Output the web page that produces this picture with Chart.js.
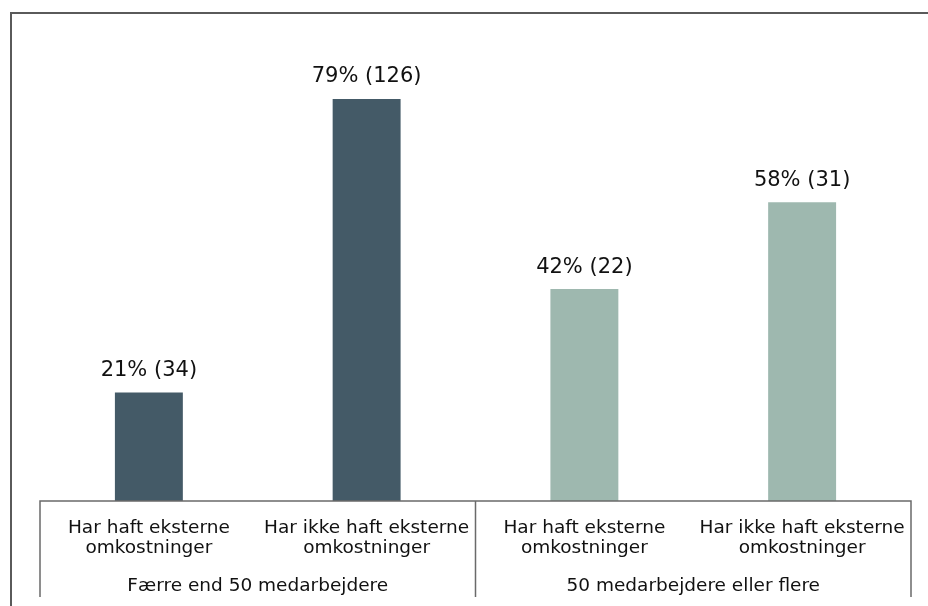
<!DOCTYPE html>
<html>
<head>
<meta charset="utf-8">
<script src="https://cdn.jsdelivr.net/npm/chart.js@4/dist/chart.umd.min.js"></script>
<style>
  html, body { margin: 0; padding: 0; background: #fff; }
  #wrap { position: relative; width: 928px; height: 606px; }
</style>
</head>
<body>
<div id="wrap"><canvas id="chart"></canvas></div>
<script>
// answers per company size group: counts of respondents
const groups = ['Færre end 50 medarbejdere', '50 medarbejdere eller flere'];
const answers = [['Har haft eksterne', 'omkostninger'], ['Har ikke haft eksterne', 'omkostninger']];
const smallCounts = [34, 126];
const largeCounts = [22, 31];
const groupColors = ['#445a67', '#9eb8af'];

const FONT = "'DejaVu Sans', Verdana, sans-serif";

// share of each answer within its group, in percent
function shares(counts) {
    const total = counts.reduce((a, b) => a + b, 0);
    return counts.map(c => c / total * 100);
}

const counts = [...smallCounts, ...largeCounts];
const values = [...shares(smallCounts), ...shares(largeCounts)];
const categories = [...answers, ...answers];
const colors = [groupColors[0], groupColors[0], groupColors[1], groupColors[1]];

const decorations = {
    id: 'decorations',
    afterDraw(chart) {
        const { ctx, chartArea } = chart;
        const x = chart.scales.x;
        const meta = chart.getDatasetMeta(0);
        ctx.save();

        // outer frame
        ctx.strokeStyle = '#5a5a5a';
        ctx.lineWidth = 2;
        ctx.beginPath();
        ctx.moveTo(11, 606);
        ctx.lineTo(11, 13);
        ctx.lineTo(928, 13);
        ctx.stroke();

        // category box below the bars
        const bottom = chartArea.bottom;
        const boxEnd = 597;
        const mid = (x.getPixelForValue(1) + x.getPixelForValue(2)) / 2;
        ctx.strokeStyle = '#6a6a6a';
        ctx.lineWidth = 1.5;
        ctx.beginPath();
        ctx.moveTo(chartArea.left, boxEnd);
        ctx.lineTo(chartArea.left, bottom);
        ctx.lineTo(chartArea.right, bottom);
        ctx.lineTo(chartArea.right, boxEnd);
        ctx.moveTo(mid, bottom);
        ctx.lineTo(mid, boxEnd);
        ctx.stroke();

        ctx.fillStyle = '#111111';
        ctx.textAlign = 'center';
        ctx.textBaseline = 'middle';

        // answer labels
        ctx.font = '18.5px ' + FONT;
        categories.forEach((lines, i) => {
            const cx = x.getPixelForValue(i);
            lines.forEach((line, j) => ctx.fillText(line, cx, bottom + 27 + j * 20));
        });

        // group labels
        groups.forEach((g, gi) => {
            const cx = (x.getPixelForValue(gi * 2) + x.getPixelForValue(gi * 2 + 1)) / 2;
            ctx.fillText(g, cx, bottom + 85);
        });

        // value labels above bars
        ctx.font = '21px ' + FONT;
        meta.data.forEach((bar, i) => {
            const label = Math.round(values[i]) + '% (' + counts[i] + ')';
            ctx.fillText(label, bar.x, bar.y - 22);
        });

        ctx.restore();
    }
};

new Chart(document.getElementById('chart'), {
    type: 'bar',
    data: {
        labels: categories.map(c => c.join(' ')),
        datasets: [{
            data: values,
            backgroundColor: colors,
            borderWidth: 0,
            categoryPercentage: 1,
            barPercentage: 0.312
        }]
    },
    options: {
        responsive: true,
        maintainAspectRatio: false,
        animation: false,
        layout: { padding: { left: 40, right: 17, top: 67, bottom: 105 } },
        plugins: { legend: { display: false }, tooltip: { enabled: false } },
        scales: {
            x: { display: false },
            y: { display: false, min: 0, max: 85 }
        }
    },
    plugins: [decorations]
});
</script>
</body>
</html>
